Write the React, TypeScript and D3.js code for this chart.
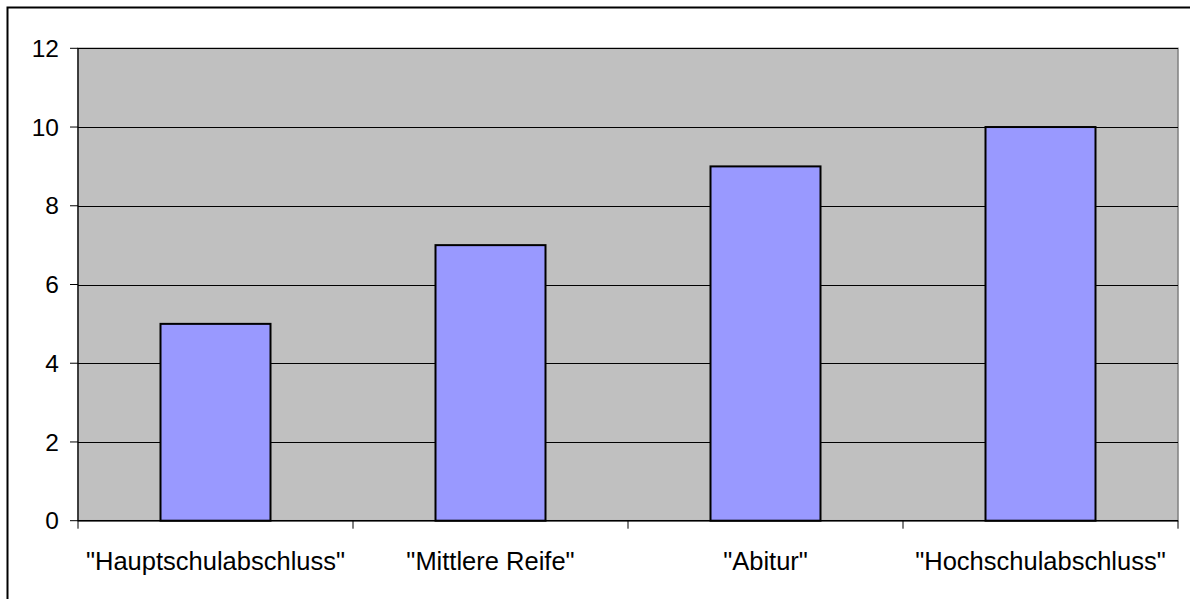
import React from "react";
import * as d3 from "d3";

const categories = ['"Hauptschulabschluss"', '"Mittlere Reife"', '"Abitur"', '"Hochschulabschluss"'];
const values = [5, 7, 9, 10];
const yTicks = [0, 2, 4, 6, 8, 10, 12];

const W = 1190;
const H = 599;
const plot = { left: 78, right: 1178, top: 48.3, bottom: 520.7 };
const FONT = "'Liberation Sans', Arial, sans-serif";

export default function App() {
  const xBand = d3.scaleBand<string>().domain(categories).range([plot.left, plot.right]).paddingInner(0.6).paddingOuter(0.3);
  const xCat = d3.scaleBand<string>().domain(categories).range([plot.left, plot.right]).padding(0);
  const y = d3.scaleLinear().domain([0, 12]).range([plot.bottom, plot.top]);
  const boundaries = [...categories.map((c) => xCat(c)!), plot.right];

  return (
    <svg width={W} height={H} style={{ position: "absolute", left: 0, top: 0 }} fontFamily={FONT}>
      <rect x={0} y={0} width={W} height={H} fill="#ffffff" />
      <rect x={7.5} y={7.5} width={W + 20} height={H + 20} fill="none" stroke="#000" strokeWidth={2} />
      <rect x={plot.left} y={plot.top} width={plot.right - plot.left} height={plot.bottom - plot.top} fill="#C0C0C0" stroke="#808080" strokeWidth={1.5} />
      {yTicks.filter((t) => t > 0).map((t) => (
        <line key={"g" + t} x1={plot.left} x2={plot.right} y1={Math.round(y(t)) + 0.5} y2={Math.round(y(t)) + 0.5} stroke="#000" strokeWidth={1} />
      ))}
      {categories.map((c, i) => (
        <rect key={c} x={xBand(c)!} y={y(values[i])} width={xBand.bandwidth()} height={plot.bottom - y(values[i])} fill="#9999FF" stroke="#000" strokeWidth={2} />
      ))}
      <line x1={plot.left} x2={plot.left} y1={plot.top} y2={plot.bottom} stroke="#000" strokeWidth={1.2} />
      <line x1={plot.left} x2={plot.right} y1={plot.bottom} y2={plot.bottom} stroke="#000" strokeWidth={1.5} />
      {yTicks.map((t) => (
        <g key={"t" + t}>
          <line x1={plot.left - 8} x2={plot.left} y1={y(t)} y2={y(t)} stroke="#000" strokeWidth={1} />
          <text x={59} y={y(t)} dy="0.35em" textAnchor="end" fontSize={24.5} fill="#000">{t}</text>
        </g>
      ))}
      {boundaries.map((b, i) => (
        <line key={"b" + i} x1={b} x2={b} y1={plot.bottom} y2={plot.bottom + 8} stroke="#000" strokeWidth={1} />
      ))}
      {categories.map((c) => (
        <text key={"l" + c} x={xCat(c)! + xCat.bandwidth() / 2} y={570} textAnchor="middle" fontSize={25.5} fill="#000">{c}</text>
      ))}
    </svg>
  );
}
